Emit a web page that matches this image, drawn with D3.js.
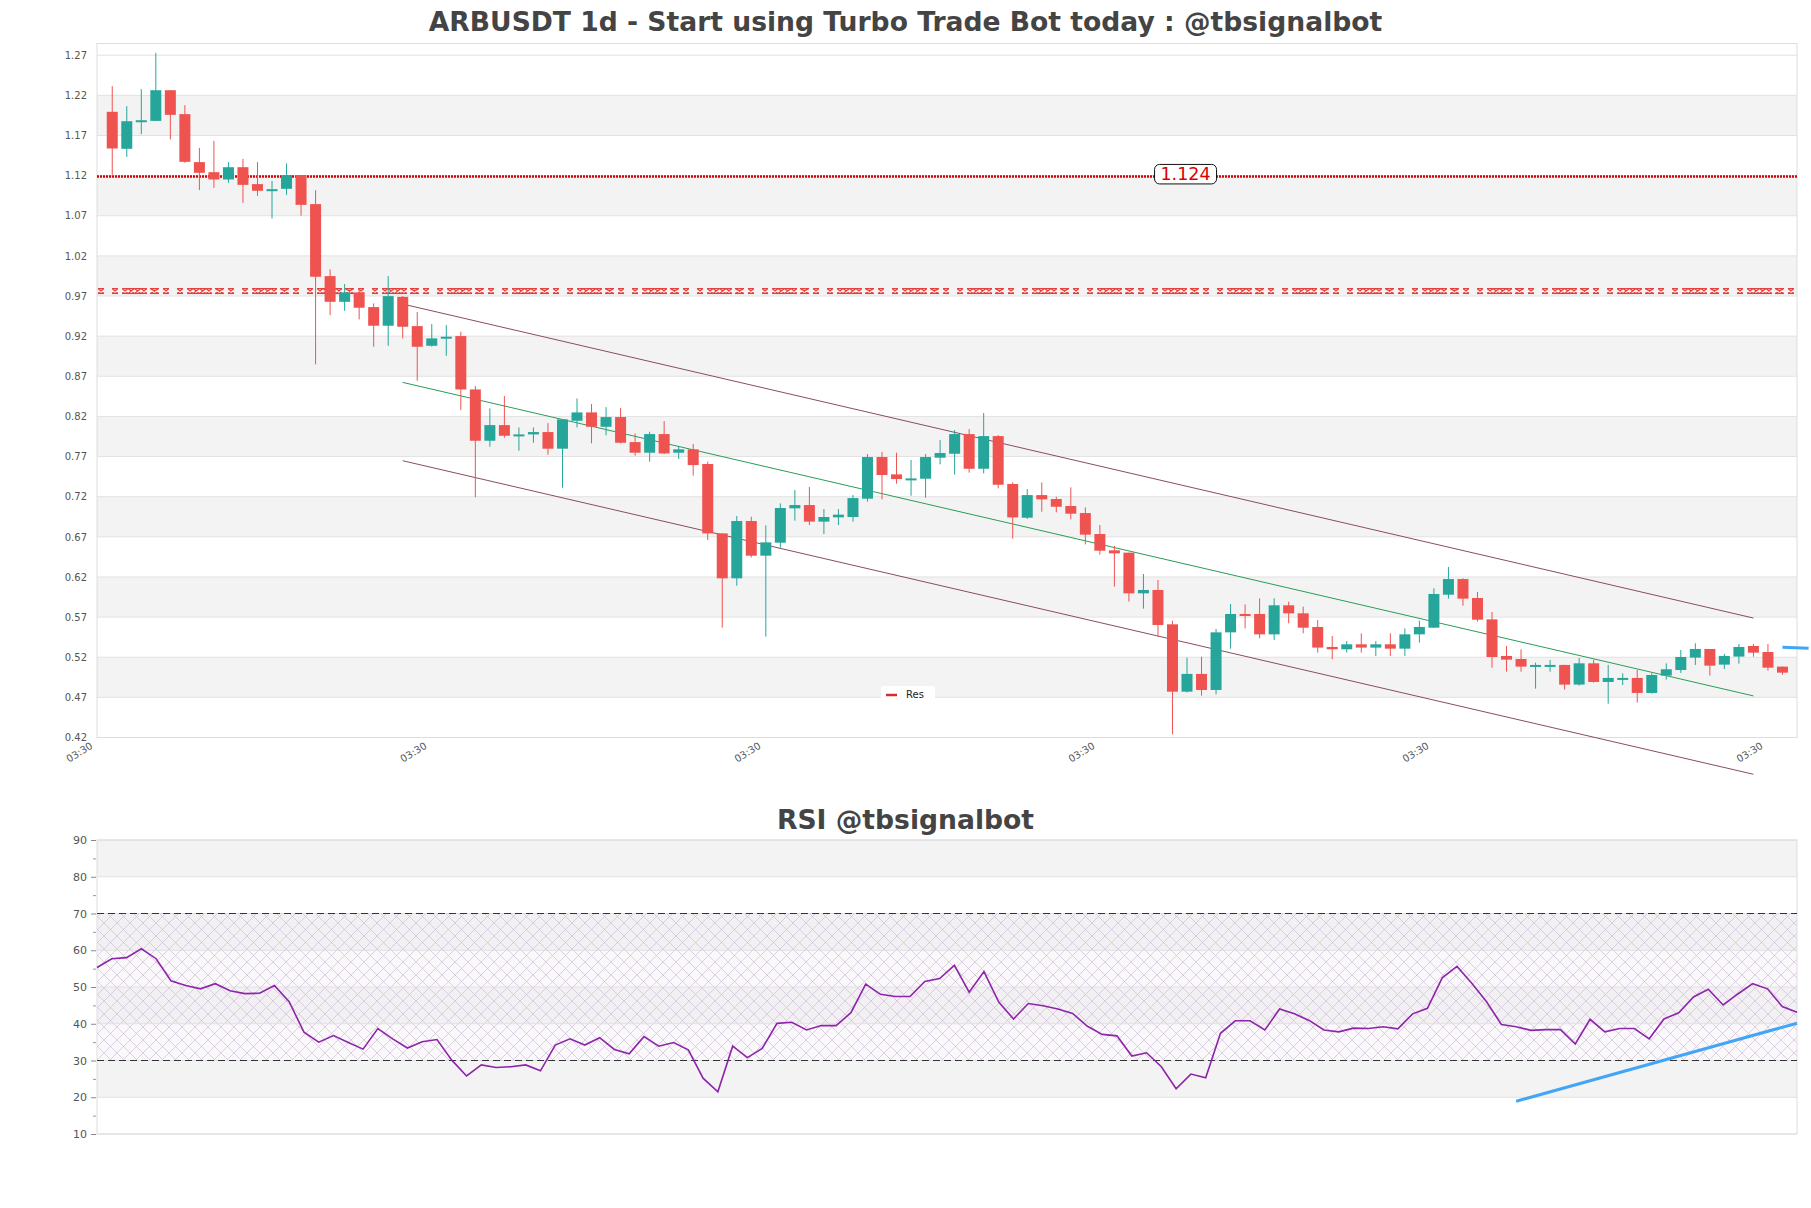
<!DOCTYPE html>
<html>
<head>
<meta charset="utf-8">
<script src="https://cdn.jsdelivr.net/npm/d3@7"></script>
<style>
  html, body { margin: 0; padding: 0; background: #ffffff; }
  svg { display: block; }
</style>
</head>
<body>
<svg id="chart" width="1811" height="1208"></svg>
<script>
// ---------------- DATA ----------------
const open = [1.1995,1.1534,1.1878,1.1882,1.2264,1.1966,1.1368,1.1243,1.1152,1.1305,1.1094,1.1011,1.1036,1.1206,1.0845,0.9948,0.9628,0.9745,0.9562,0.9330,
0.9690,0.9325,0.9080,0.9180,0.9201,0.8536,0.7897,0.8092,0.7965,0.7976,0.8005,0.7798,0.8146,0.8250,0.8071,0.8192,0.7880,0.7748,0.7980,0.7748,
0.7790,0.7607,0.6743,0.6183,0.6897,0.6465,0.6627,0.7055,0.7096,0.6889,0.6943,0.6947,0.7175,0.7694,0.7478,0.7420,0.7424,0.7686,0.7735,0.7980,
0.7548,0.7955,0.7358,0.6938,0.7220,0.7171,0.7084,0.6996,0.6735,0.6532,0.6503,0.5996,0.6038,0.5610,0.4771,0.4992,0.4792,0.5510,0.5739,0.5739,
0.5485,0.5847,0.5747,0.5577,0.5328,0.5299,0.5361,0.5320,0.5361,0.5307,0.5485,0.5568,0.5979,0.6174,0.5938,0.5672,0.5216,0.5178,0.5083,0.5100,
0.5104,0.4859,0.5124,0.4892,0.4938,0.4942,0.4755,0.4971,0.5041,0.5195,0.5303,0.5108,0.5208,0.5340,0.5265,0.5083];
const high = [1.2314,1.2065,1.2277,1.2729,1.2264,1.2078,1.1546,1.1633,1.1368,1.1409,1.1368,1.1135,1.1351,1.1206,1.1019,1.0031,0.9849,0.9795,0.9608,0.9948,
0.9700,0.9500,0.9350,0.9338,0.9255,0.8578,0.8300,0.8453,0.8063,0.8063,0.8117,0.8165,0.8424,0.8354,0.8316,0.8304,0.7988,0.8009,0.8142,0.7831,
0.7856,0.7636,0.6745,0.6959,0.6950,0.6843,0.7117,0.7283,0.7320,0.7046,0.7046,0.7220,0.7731,0.7756,0.7748,0.7657,0.7731,0.7905,0.8030,0.8042,
0.8242,0.7968,0.7378,0.7295,0.7378,0.7200,0.7316,0.7067,0.6847,0.6586,0.6503,0.6237,0.6162,0.5656,0.5195,0.5207,0.5552,0.5863,0.5859,0.5934,
0.5934,0.5892,0.5830,0.5664,0.5465,0.5402,0.5498,0.5402,0.5498,0.5560,0.5656,0.6058,0.6324,0.6183,0.6013,0.5764,0.5340,0.5299,0.5133,0.5166,
0.5106,0.5191,0.5166,0.5104,0.5000,0.5041,0.5000,0.5124,0.5290,0.5374,0.5303,0.5241,0.5365,0.5365,0.5365,0.5085];
const low = [1.1193,1.1434,1.1716,1.1880,1.1650,1.1360,1.1020,1.1048,1.1110,1.0861,1.0948,1.0666,1.0960,1.0700,0.8848,0.9462,0.9516,0.9408,0.9068,0.9080,
0.9172,0.8645,0.9070,0.8956,0.8279,0.7192,0.7822,0.7934,0.7773,0.7872,0.7723,0.7312,0.8063,0.7864,0.7964,0.7864,0.7711,0.7636,0.7731,0.7670,
0.7461,0.6660,0.5569,0.6091,0.6444,0.5456,0.6565,0.6901,0.6847,0.6735,0.6847,0.6889,0.7138,0.7167,0.7362,0.7212,0.7187,0.7603,0.7474,0.7499,
0.7490,0.7304,0.6677,0.6922,0.7013,0.7005,0.6918,0.6606,0.6478,0.6080,0.5892,0.5805,0.5456,0.4240,0.4760,0.4722,0.4738,0.5307,0.5560,0.5436,
0.5415,0.5623,0.5498,0.5257,0.5174,0.5257,0.5257,0.5216,0.5216,0.5216,0.5382,0.5568,0.5930,0.5842,0.5643,0.5070,0.5020,0.5020,0.4809,0.5020,
0.4796,0.4846,0.4884,0.4622,0.4855,0.4634,0.4747,0.4921,0.5004,0.5104,0.4971,0.5054,0.5120,0.5207,0.5033,0.4983];
const close = [1.1538,1.1878,1.1890,1.2264,1.1957,1.1372,1.1235,1.1152,1.1305,1.1085,1.1011,1.1031,1.1206,1.0836,0.9940,0.9628,0.9745,0.9554,0.9330,0.9699,
0.9317,0.9068,0.9172,0.9193,0.8536,0.7897,0.8092,0.7959,0.7976,0.8005,0.7798,0.8163,0.8250,0.8071,0.8192,0.7872,0.7748,0.7980,0.7739,0.7790,
0.7594,0.6743,0.6183,0.6897,0.6465,0.6631,0.7059,0.7096,0.6889,0.6947,0.6976,0.7183,0.7694,0.7470,0.7420,0.7428,0.7694,0.7744,0.7980,0.7548,
0.7955,0.7349,0.6942,0.7220,0.7167,0.7075,0.6988,0.6727,0.6527,0.6494,0.5996,0.6038,0.5602,0.4771,0.4992,0.4792,0.5510,0.5739,0.5731,0.5485,
0.5847,0.5747,0.5568,0.5320,0.5299,0.5361,0.5320,0.5361,0.5307,0.5485,0.5577,0.5988,0.6174,0.5930,0.5668,0.5203,0.5170,0.5083,0.5104,0.5104,
0.4859,0.5124,0.4892,0.4942,0.4942,0.4755,0.4979,0.5050,0.5203,0.5303,0.5095,0.5216,0.5328,0.5257,0.5070,0.5008];

const rsi = [55.3,57.7,58.0,60.4,57.7,51.7,50.4,49.5,50.9,49.0,48.2,48.3,50.4,46.0,37.7,35.0,36.8,34.9,33.1,38.7,
35.9,33.4,35.1,35.7,30.1,25.8,28.8,28.1,28.3,28.8,27.2,34.2,35.9,34.2,36.2,33.0,31.8,36.5,33.9,34.9,
32.9,25.2,21.5,33.9,30.8,33.3,40.1,40.4,38.3,39.5,39.5,43.0,50.8,48.0,47.4,47.4,51.5,52.3,55.9,48.6,
54.2,45.9,41.3,45.5,44.9,44.0,42.8,39.3,37.1,36.7,31.2,32.1,28.3,22.3,26.3,25.3,37.4,40.8,40.8,38.3,
44.0,42.7,40.9,38.3,37.8,38.8,38.7,39.2,38.6,42.7,44.2,52.5,55.6,51.0,46.0,39.8,39.2,38.2,38.4,38.4,
34.5,41.2,37.8,38.7,38.7,35.9,41.3,43.0,47.3,49.4,45.1,48.1,50.9,49.5,44.7,43.1];

const priceTicks = [1.27,1.22,1.17,1.12,1.07,1.02,0.97,0.92,0.87,0.82,0.77,0.72,0.67,0.62,0.57,0.52,0.47,0.42];
const timeTickIdx = [-1.05,21.95,44.95,67.95,90.95,113.95];
const timeTickLabels = ["03:30","03:30","03:30","03:30","03:30","03:30"];
const rsiTicks = [10,20,30,40,50,60,70,80,90];

// channel (candle index, value)
const channelIdx = [20, 113];
const channelUpper = [0.9600, 0.5688];
const channelMid = [0.8624, 0.4718];
const channelLower = [0.7648, 0.3742];

// horizontal levels
const dottedLevel = [1.119];
const dottedLevelLabel = ["1.124"];
const resLevel = [0.9762];
const legendLabels = ["Res"];

// blue trend lines
const priceBlueIdx = [115, 116.8];
const priceBlueVal = [0.5325, 0.5312];
const rsiBlueIdx = [96, 115];
const rsiBlueVal = [18.9, 40.15];

// ---------------- LAYOUT ----------------
const svg = d3.select("#chart");
const M = {left: 97, right: 1797, top: 43.5, bottom: 737.5};
const R = {left: 97, right: 1797, top: 840, bottom: 1134};
const FONT = "DejaVu Sans, sans-serif";
const GREEN = "#26a69a", RED = "#ef5350";

const x = d3.scaleLinear().domain([-1.05, 116]).range([M.left, M.right]);
const y = d3.scaleLinear().domain([0.42, 1.2846]).range([M.bottom, M.top]);
const xr = d3.scaleLinear().domain([0, rsi.length - 1]).range([R.left, R.right]);
const yr = d3.scaleLinear().domain([10, 90]).range([R.bottom, R.top]);

const defs = svg.append("defs");

// hatch pattern for RSI zone
const hatch = defs.append("pattern").attr("id", "hatch").attr("patternUnits", "userSpaceOnUse")
  .attr("width", 13).attr("height", 13);
hatch.append("rect").attr("width", 13).attr("height", 13).attr("fill", "#f3e9f6").attr("opacity", 0.35);
hatch.append("path").attr("d", "M0,0 L13,13 M13,0 L0,13").attr("stroke", "#cdbfd5").attr("stroke-width", 0.7).attr("fill", "none");

// pattern for res line (x-marks between double bars)
const resPat = defs.append("pattern").attr("id", "resPat").attr("patternUnits", "userSpaceOnUse")
  .attr("width", 65).attr("height", 6).attr("x", M.left + 25).attr("y", y(resLevel[0]) - 3);
const xMark = (a, b) => `M${a},0.6 L${b},0.6 M${a},5.4 L${b},5.4 M${a},0.6 L${b},5.4 M${b},0.6 L${a},5.4 `;
resPat.append("path")
  .attr("d", xMark(0, 6) + xMark(6, 12.5) + xMark(12.5, 19) + xMark(19, 25) + xMark(28, 37) + xMark(41, 47) + xMark(55, 61))
  .attr("stroke", "#e53935").attr("stroke-width", 1.1).attr("fill", "none");

// ---------------- TITLES ----------------
svg.append("text").attr("x", 905.5).attr("y", 31).attr("text-anchor", "middle")
  .attr("font-family", FONT).attr("font-weight", "bold").attr("font-size", 26.6).attr("fill", "#444")
  .text("ARBUSDT 1d - Start using Turbo Trade Bot today : @tbsignalbot");
svg.append("text").attr("x", 905.5).attr("y", 829).attr("text-anchor", "middle")
  .attr("font-family", FONT).attr("font-weight", "bold").attr("font-size", 26.6).attr("fill", "#444")
  .text("RSI @tbsignalbot");

// ---------------- MAIN PANEL ----------------
const main = svg.append("g");
for (let i = 0; i < priceTicks.length - 1; i++) {
  if (i % 2 === 1) {
    main.append("rect").attr("x", M.left).attr("width", M.right - M.left)
      .attr("y", y(priceTicks[i])).attr("height", y(priceTicks[i + 1]) - y(priceTicks[i]))
      .attr("fill", "#f3f3f3");
  }
}
main.selectAll(".grid").data(priceTicks).join("line")
  .attr("x1", M.left).attr("x2", M.right).attr("y1", d => y(d)).attr("y2", d => y(d))
  .attr("stroke", "#e2e2e2").attr("stroke-width", 1);
main.append("rect").attr("x", M.left).attr("y", M.top).attr("width", M.right - M.left).attr("height", M.bottom - M.top)
  .attr("fill", "none").attr("stroke", "#dddddd").attr("stroke-width", 1);

const yAxis = d3.axisLeft(y).tickValues(priceTicks).tickSize(0).tickPadding(10).tickFormat(d3.format(".2f"));
const yAxG = svg.append("g").attr("transform", `translate(${M.left},0)`).call(yAxis);
yAxG.select(".domain").remove();
yAxG.selectAll("text").attr("font-family", FONT).attr("font-size", 10).attr("fill", "#555");

const xAxis = d3.axisBottom(x).tickValues(timeTickIdx).tickSize(0).tickFormat((d, i) => timeTickLabels[i]);
const xAxG = svg.append("g").attr("transform", `translate(0,${M.bottom})`).call(xAxis);
xAxG.select(".domain").remove();
xAxG.selectAll("text").attr("font-family", FONT).attr("font-size", 10).attr("fill", "#555")
  .attr("text-anchor", "end").attr("dy", null).attr("y", 0)
  .attr("transform", "translate(-4,10) rotate(-32)");

// levels
const plotG = svg.append("g");
plotG.selectAll(".dl").data(dottedLevel).join("line")
  .attr("x1", M.left).attr("x2", M.right).attr("y1", d => y(d)).attr("y2", d => y(d))
  .attr("stroke", "#d80000").attr("stroke-width", 2.5).attr("stroke-dasharray", "2,1");
plotG.selectAll(".rl").data(resLevel).join("rect")
  .attr("x", M.left).attr("width", M.right - M.left).attr("y", d => y(d) - 3).attr("height", 6)
  .attr("fill", "url(#resPat)");

const chan = (vals, color) => {
  plotG.append("line")
    .attr("x1", x(channelIdx[0])).attr("x2", x(channelIdx[1]))
    .attr("y1", y(vals[0])).attr("y2", y(vals[1]))
    .attr("stroke", color).attr("stroke-width", 1);
};
chan(channelUpper, "#8a4d63");
chan(channelLower, "#8a4d63");
chan(channelMid, "#2a9d57");

// candles
const candleG = svg.append("g");
const idx = d3.range(close.length);
const bw = 11;
candleG.selectAll(".wick").data(idx).join("line")
  .attr("x1", i => x(i)).attr("x2", i => x(i))
  .attr("y1", i => y(high[i])).attr("y2", i => y(low[i]))
  .attr("stroke", i => close[i] >= open[i] ? GREEN : RED).attr("stroke-width", 1);
candleG.selectAll(".body").data(idx).join("rect")
  .attr("x", i => x(i) - bw / 2).attr("width", bw)
  .attr("y", i => y(Math.max(open[i], close[i])))
  .attr("height", i => Math.max(2, Math.abs(y(open[i]) - y(close[i]))))
  .attr("fill", i => close[i] >= open[i] ? GREEN : RED);

svg.append("line")
  .attr("x1", x(priceBlueIdx[0])).attr("x2", x(priceBlueIdx[1]))
  .attr("y1", y(priceBlueVal[0])).attr("y2", y(priceBlueVal[1]))
  .attr("stroke", "#42a5f5").attr("stroke-width", 3);

// dotted level label
const lblX = x(73.9), lblY = y(dottedLevel[0]);
const lblG = svg.append("g");
lblG.append("rect").attr("x", lblX - 31).attr("y", lblY - 12).attr("width", 62).attr("height", 19.5)
  .attr("rx", 5).attr("fill", "#fff").attr("stroke", "#111").attr("stroke-width", 1);
lblG.append("text").attr("x", lblX).attr("y", lblY + 4).attr("text-anchor", "middle")
  .attr("font-family", FONT).attr("font-size", 17.5).attr("fill", "#e00000").text(dottedLevelLabel[0]);

// legend
const lg = svg.append("g");
lg.append("rect").attr("x", 881).attr("y", 686).attr("width", 54).attr("height", 15).attr("rx", 3).attr("fill", "#fff");
lg.append("line").attr("x1", 886).attr("x2", 897).attr("y1", 695).attr("y2", 695).attr("stroke", "#d32f2f").attr("stroke-width", 2.5);
lg.append("text").attr("x", 906).attr("y", 698).attr("font-family", FONT).attr("font-size", 10).attr("fill", "#222").text(legendLabels[0]);

// ---------------- RSI PANEL ----------------
const rg = svg.append("g");
for (let i = 0; i < rsiTicks.length - 1; i++) {
  if (i % 2 === 1) {
    rg.append("rect").attr("x", R.left).attr("width", R.right - R.left)
      .attr("y", yr(rsiTicks[i + 1])).attr("height", yr(rsiTicks[i]) - yr(rsiTicks[i + 1]))
      .attr("fill", "#f3f3f3");
  }
}
rg.append("rect").attr("x", R.left).attr("width", R.right - R.left)
  .attr("y", yr(70)).attr("height", yr(30) - yr(70)).attr("fill", "url(#hatch)");
rg.selectAll(".rgrid").data(rsiTicks).join("line")
  .attr("x1", R.left).attr("x2", R.right).attr("y1", d => yr(d)).attr("y2", d => yr(d))
  .attr("stroke", "#e0e0e0").attr("stroke-width", 1);
rg.append("rect").attr("x", R.left).attr("y", R.top).attr("width", R.right - R.left).attr("height", R.bottom - R.top)
  .attr("fill", "none").attr("stroke", "#dddddd").attr("stroke-width", 1);
rg.selectAll(".dash").data([70, 30]).join("line")
  .attr("x1", R.left).attr("x2", R.right).attr("y1", d => yr(d)).attr("y2", d => yr(d))
  .attr("stroke", "#333").attr("stroke-width", 1.2).attr("stroke-dasharray", "7,4");

const rAxis = d3.axisLeft(yr).tickValues(rsiTicks).tickSize(5).tickPadding(4);
const rAxG = svg.append("g").attr("transform", `translate(${R.left - 1},0)`).call(rAxis);
rAxG.select(".domain").remove();
rAxG.selectAll("line").attr("stroke", "#888");
rAxG.selectAll("text").attr("font-family", FONT).attr("font-size", 11).attr("fill", "#555");
const rMinor = d3.axisLeft(yr).tickValues(d3.range(15, 90, 10)).tickSize(3).tickFormat("");
const rMinG = svg.append("g").attr("transform", `translate(${R.left - 1},0)`).call(rMinor);
rMinG.select(".domain").remove();
rMinG.selectAll("line").attr("stroke", "#999");

rg.append("path").datum(rsi)
  .attr("d", d3.line().x((d, i) => xr(i)).y(d => yr(d)))
  .attr("fill", "none").attr("stroke", "#8e24aa").attr("stroke-width", 1.6);

rg.append("line")
  .attr("x1", xr(rsiBlueIdx[0])).attr("x2", xr(rsiBlueIdx[1]))
  .attr("y1", yr(rsiBlueVal[0])).attr("y2", yr(rsiBlueVal[1]))
  .attr("stroke", "#42a5f5").attr("stroke-width", 3);
</script>
</body>
</html>
